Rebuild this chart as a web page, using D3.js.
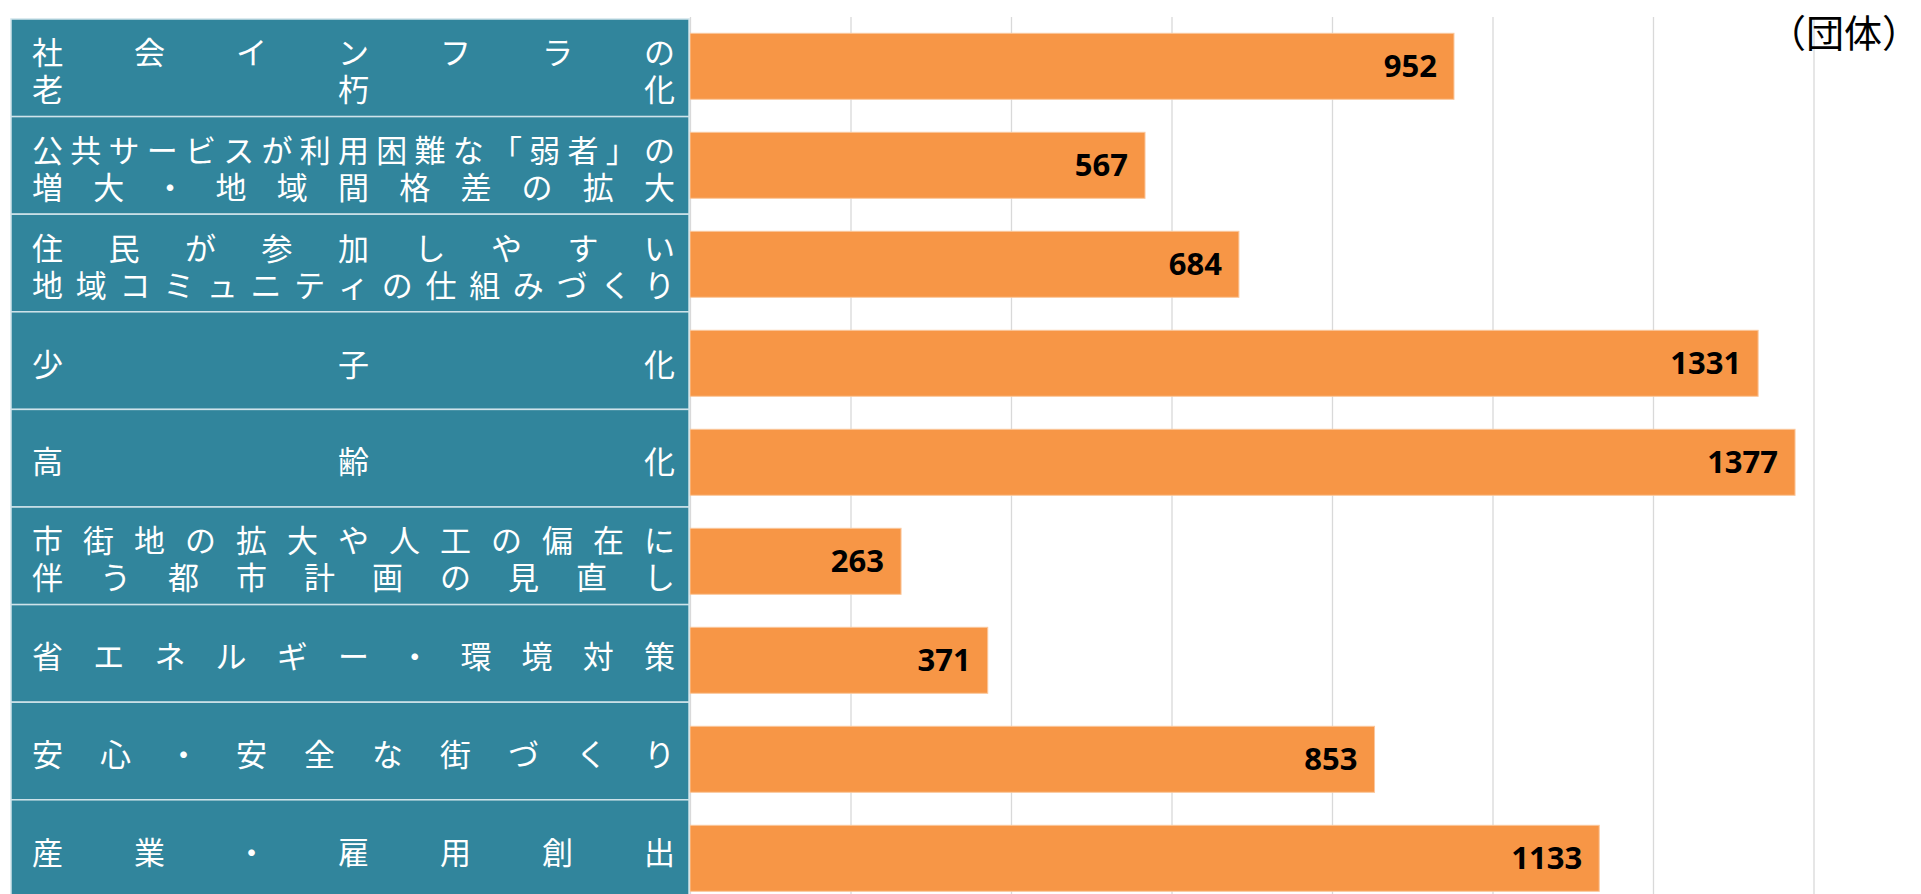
<!DOCTYPE html>
<html>
<head>
<meta charset="utf-8">
<script src="https://cdn.jsdelivr.net/npm/d3@7"></script>
<style>
  body { margin: 0; background: #fff; }
</style>
</head>
<body>
<div id="plot"></div>
<script>
// categories (label lines split by \n) and values
const categories = [
  "社会インフラの\n老朽化",
  "公共サービスが利用困難な「弱者」の\n増大・地域間格差の拡大",
  "住民が参加しやすい\n地域コミュニティの仕組みづくり",
  "少子化",
  "高齢化",
  "市街地の拡大や人工の偏在に\n伴う都市計画の見直し",
  "省エネルギー・環境対策",
  "安心・安全な街づくり",
  "産業・雇用創出"
];
const values = [952, 567, 684, 1331, 1377, 263, 371, 853, 1133];
const unitLabel = "（団体）";

const w = 1921;
const h = 894;

const svg = d3.select("div#plot")
    .append("svg")
    .attr("width", w)
    .attr("height", h);

// scales
const xScale = d3.scaleLinear()
    .domain([0, 1400])
    .range([690, 1813.5]);

const yScale = d3.scaleBand()
    .domain(categories)
    .range([16.8, 907.8])
    .paddingInner(1/3)
    .paddingOuter(1/6);

const rowScale = d3.scaleBand()
    .domain(categories)
    .range([19, 897.4]);

// gridlines
const xAxis = d3.axisBottom(xScale)
    .ticks(7)
    .tickSize(h - 17)
    .tickFormat("");

svg.append("g")
    .attr("class", "grid")
    .attr("transform", "translate(0, 17)")
    .call(xAxis)
    .call(g => g.select(".domain").remove())
    .call(g => g.selectAll(".tick line")
        .attr("stroke", "#d9d9d9")
        .attr("stroke-width", 1.3));

// bars
svg.append("g")
  .selectAll("rect")
    .data(values)
  .enter().append("rect")
    .attr("x", xScale(0))
    .attr("y", (d, i) => yScale(categories[i]))
    .attr("width", d => xScale(d) - xScale(0))
    .attr("height", yScale.bandwidth())
    .attr("fill", "#f79646")
    .attr("stroke", "#fbc79c")
    .attr("stroke-width", 1);

// value labels
svg.append("g")
  .selectAll("text")
    .data(values)
  .enter().append("text")
    .attr("x", d => xScale(d) - 17)
    .attr("y", (d, i) => yScale(categories[i]) + yScale.bandwidth() / 2 + 11)
    .attr("text-anchor", "end")
    .attr("font-family", "'Open Sans', 'Liberation Sans', sans-serif")
    .attr("font-weight", 700)
    .attr("font-size", 31)
    .attr("fill", "#000")
    .text(d => d);

// label table on the left
const tableLeft = 11;
const tableRight = 689;

const rows = svg.append("g").attr("class", "table");

rows.selectAll("rect")
    .data(categories)
  .enter().append("rect")
    .attr("x", tableLeft)
    .attr("y", d => rowScale(d))
    .attr("width", tableRight - tableLeft)
    .attr("height", rowScale.bandwidth())
    .attr("fill", "#31859c")
    .attr("stroke", "#cfe3ea")
    .attr("stroke-width", 1.5);

// distributed (justified) text, each character placed across the cell
const fs = 31;
const textLeft = 32;
const textRight = 675;
const lineGap = 37;

categories.forEach(function (cat) {
  const lines = cat.split("\n");
  const cy = rowScale(cat) + rowScale.bandwidth() / 2 + 1.5;
  lines.forEach(function (line, li) {
    const chars = Array.from(line);
    const ly = cy + (li - (lines.length - 1) / 2) * lineGap;
    const first = textLeft + fs / 2;
    const last = textRight - fs / 2;
    const step = chars.length > 1 ? (last - first) / (chars.length - 1) : 0;
    rows.append("g")
      .selectAll("text")
        .data(chars)
      .enter().append("text")
        .attr("x", (c, i) => first + i * step)
        .attr("y", ly)
        .attr("text-anchor", "middle")
        .attr("dominant-baseline", "central")
        .attr("font-family", "'Noto Sans CJK JP', sans-serif")
        .attr("font-size", fs)
        .attr("fill", "#fff")
        .text(c => c);
  });
});

// unit label
svg.append("text")
    .attr("x", 1920)
    .attr("y", 30)
    .attr("text-anchor", "end")
    .attr("dominant-baseline", "central")
    .attr("font-family", "'Noto Sans CJK JP', sans-serif")
    .attr("font-size", 38)
    .attr("fill", "#000")
    .text(unitLabel);
</script>
</body>
</html>
